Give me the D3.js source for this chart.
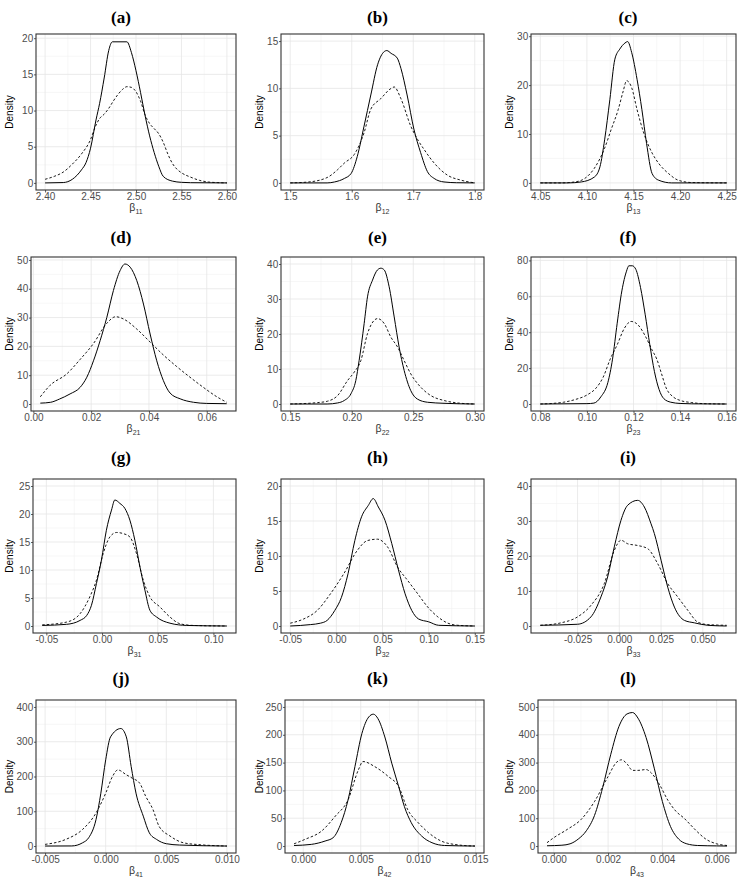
<!DOCTYPE html>
<html>
<head>
<meta charset="utf-8">
<script src="https://cdn.jsdelivr.net/npm/d3@7"></script>
<style>
  body { margin: 0; background: #fff; }
  svg text { font-family: "Liberation Sans", Arial, sans-serif; }
  svg text.caption { font-family: "Liberation Serif", "DejaVu Serif", serif; font-weight: bold; }
</style>
</head>
<body>
<svg id="chart" width="744" height="883"></svg>
<script>
// panel captions and x-axis subscripts
const captions = ["(a)", "(b)", "(c)", "(d)", "(e)", "(f)", "(g)", "(h)", "(i)", "(j)", "(k)", "(l)"];
const subscripts = ["11", "12", "13", "21", "22", "23", "31", "32", "33", "41", "42", "43"];

// tick values and label decimals
const xTicks = [
  [2.40, 2.45, 2.50, 2.55, 2.60], [1.5, 1.6, 1.7, 1.8], [4.05, 4.10, 4.15, 4.20, 4.25],
  [0.00, 0.02, 0.04, 0.06], [0.15, 0.20, 0.25, 0.30], [0.08, 0.10, 0.12, 0.14, 0.16],
  [-0.05, 0.00, 0.05, 0.10], [-0.05, 0.00, 0.05, 0.10, 0.15], [-0.025, 0.000, 0.025, 0.050],
  [-0.005, 0.000, 0.005, 0.010], [0.000, 0.005, 0.010, 0.015], [0.000, 0.002, 0.004, 0.006]
];
const xDigits = [2, 1, 2, 2, 2, 2, 2, 2, 3, 3, 3, 3];
const yTicks = [
  [0, 5, 10, 15, 20], [0, 5, 10, 15], [0, 10, 20, 30],
  [0, 10, 20, 30, 40, 50], [0, 10, 20, 30, 40], [0, 20, 40, 60, 80],
  [0, 5, 10, 15, 20, 25], [0, 5, 10, 15, 20], [0, 10, 20, 30, 40],
  [0, 100, 200, 300, 400], [0, 50, 100, 150, 200, 250], [0, 100, 200, 300, 400, 500]
];

// data extent on x and y limit of each panel
const xRange = [
  [2.40, 2.60], [1.5, 1.8], [4.05, 4.25],
  [0.0024, 0.0669], [0.15, 0.30], [0.08, 0.16],
  [-0.0537, 0.112], [-0.05, 0.15], [-0.0473, 0.0643],
  [-0.005, 0.010], [-0.0008, 0.01494], [-0.00025, 0.00638]
];
const yLimit = [19.6, 15, 29, 48.6, 40, 78, 25, 20, 40, 400, 250, 500];

// density curves: solid and dashed, [x, density]
const solidA = [[2.40,0],[2.42,0.05],[2.43,0.5],[2.44,1.8],[2.445,2.8],[2.45,4.8],[2.456,8.7],[2.46,11],[2.465,14.5],[2.47,18.3],[2.474,19.5],[2.490,19.5],[2.495,18],[2.50,15.5],[2.505,12.5],[2.51,9.3],[2.515,6.5],[2.52,4.2],[2.525,2.3],[2.53,0.9],[2.54,0.25],[2.55,0.08],[2.56,0.03],[2.60,0]];
const dashedA = [[2.40,0.5],[2.41,0.9],[2.42,1.5],[2.43,2.6],[2.44,4.0],[2.45,6.0],[2.455,7.7],[2.46,8.9],[2.465,9.5],[2.47,10.3],[2.475,11.3],[2.48,12.2],[2.485,12.9],[2.49,13.3],[2.495,13.2],[2.50,12.6],[2.505,11.3],[2.51,9.4],[2.515,8.2],[2.52,7.5],[2.525,6.8],[2.53,5.6],[2.535,4.0],[2.54,2.7],[2.545,1.9],[2.55,1.4],[2.56,0.8],[2.57,0.35],[2.58,0.12],[2.59,0.04],[2.60,0]];

const solidB = [[1.5,0],[1.56,0],[1.572,0.1],[1.588,0.47],[1.599,1.0],[1.609,2.8],[1.62,6],[1.631,9.3],[1.642,12.5],[1.653,13.9],[1.657,14.0],[1.664,13.7],[1.674,13.2],[1.68,12.1],[1.69,9.3],[1.701,5.7],[1.712,3.2],[1.723,1.2],[1.734,0.47],[1.75,0.1],[1.77,0.02],[1.8,0]];
const dashedB = [[1.5,0],[1.53,0.1],[1.561,0.6],[1.577,1.4],[1.588,2.1],[1.604,3.0],[1.62,5.3],[1.631,7.8],[1.647,8.9],[1.664,10.0],[1.669,10.15],[1.68,8.9],[1.696,6.0],[1.707,4.6],[1.718,3.5],[1.734,2.1],[1.756,0.8],[1.777,0.3],[1.8,0]];

const solidC = [[4.05,0],[4.08,0],[4.094,0.2],[4.108,1.2],[4.114,3.3],[4.119,8.8],[4.1246,17],[4.13,25.3],[4.1354,27.4],[4.1408,28.6],[4.1437,28.9],[4.148,26.7],[4.1538,21.2],[4.159,15],[4.164,8.1],[4.17,1.9],[4.177,0.55],[4.191,0],[4.25,0]];
const dashedC = [[4.05,0],[4.072,0],[4.087,0.2],[4.0976,0.9],[4.108,3.0],[4.119,7.1],[4.126,10.9],[4.1336,15],[4.139,18.8],[4.1426,20.9],[4.148,19.5],[4.1538,15],[4.161,10.2],[4.17,6.1],[4.177,4.0],[4.1877,1.9],[4.198,0.55],[4.213,0.07],[4.25,0]];

const solidD = [[0.0024,0.3],[0.006,0.6],[0.009,1.7],[0.0127,3.5],[0.0162,5.8],[0.0185,9.3],[0.0208,15],[0.0231,22],[0.0254,30],[0.0277,39.4],[0.030,46.3],[0.0317,48.6],[0.0335,47.5],[0.0358,42.8],[0.0381,34.7],[0.0404,24.3],[0.0427,15],[0.045,8.1],[0.0473,3.8],[0.0508,1.8],[0.0554,0.6],[0.06,0.2],[0.0669,0.1]];
const dashedD = [[0.0024,2.5],[0.0058,6.5],[0.0115,10.4],[0.0162,15.5],[0.0208,21],[0.0254,28],[0.0285,30.3],[0.0312,29.5],[0.0358,26],[0.0404,21.5],[0.045,17],[0.0496,13],[0.0542,9.3],[0.0588,5.8],[0.0635,2.5],[0.0669,0.6]];

const solidE = [[0.15,0],[0.18,0],[0.1885,0.3],[0.1939,1],[0.1993,2.9],[0.2033,6.7],[0.206,12.4],[0.2101,23],[0.2128,30.6],[0.2169,35.4],[0.2209,38.3],[0.2237,38.8],[0.2264,38.3],[0.2304,33.5],[0.2345,24.9],[0.2385,16.3],[0.2426,9.6],[0.248,3.8],[0.2534,1.4],[0.2616,0.5],[0.275,0.2],[0.30,0]];
const dashedE = [[0.15,0],[0.1722,0.4],[0.1803,0.8],[0.1885,2.4],[0.1966,6.7],[0.202,9.1],[0.2074,12.4],[0.2128,20.1],[0.2182,23.9],[0.2209,24.4],[0.2264,23],[0.2318,19.1],[0.2372,16.3],[0.2426,12.4],[0.248,8.6],[0.2561,4.8],[0.2643,2.4],[0.275,1],[0.2859,0.3],[0.30,0]];

const solidF = [[0.08,0],[0.10,0.2],[0.103,0.5],[0.106,4],[0.109,12],[0.111,25],[0.113,45],[0.115,63],[0.117,74],[0.118,77],[0.1195,77],[0.121,75],[0.123,65],[0.125,50],[0.127,33],[0.129,18],[0.131,8],[0.133,3],[0.136,1],[0.14,0.3],[0.145,0.1],[0.16,0]];
const dashedF = [[0.08,0],[0.085,0.3],[0.09,1],[0.095,2.5],[0.10,5],[0.104,9],[0.107,15],[0.11,25],[0.113,33],[0.116,42],[0.119,46],[0.122,44],[0.125,38],[0.128,30],[0.13,25],[0.132,17],[0.134,9],[0.137,4],[0.14,2],[0.145,0.8],[0.15,0.2],[0.16,0]];

const solidG = [[-0.0537,0.1],[-0.0318,0.3],[-0.0197,1.0],[-0.0137,1.9],[-0.0095,3.7],[-0.005,7.6],[-0.0005,11.8],[0.0039,17.1],[0.0085,20.7],[0.0115,22.5],[0.016,21.9],[0.0205,21],[0.025,18.9],[0.0295,15.3],[0.034,10.6],[0.0385,6.4],[0.043,2.8],[0.049,1.6],[0.061,0.5],[0.076,0.1],[0.112,0]];
const dashedG = [[-0.0537,0.2],[-0.0318,0.7],[-0.0197,2.2],[-0.011,5.2],[-0.005,8.2],[0.001,12.9],[0.007,15.9],[0.013,16.7],[0.019,16.5],[0.025,15.9],[0.031,12.9],[0.037,8.2],[0.043,5.2],[0.052,3.4],[0.061,1.6],[0.070,0.4],[0.082,0.1],[0.112,0]];

const solidH = [[-0.05,0],[-0.0282,0.2],[-0.0173,0.4],[-0.01,0.8],[-0.0018,2.2],[0.0055,4.1],[0.0127,7.5],[0.02,12.2],[0.0273,15.6],[0.0345,17.2],[0.04,18.2],[0.0455,17],[0.0527,15.1],[0.06,11.8],[0.0673,8],[0.0745,4.6],[0.0818,2.2],[0.0891,1.0],[0.1,0.6],[0.1109,0.1],[0.15,0]];
const dashedH = [[-0.05,0.4],[-0.0355,1],[-0.0209,2.2],[-0.0064,4.6],[0.0082,7.5],[0.0227,10.8],[0.0336,12.2],[0.0445,12.4],[0.0555,11.3],[0.0664,8.4],[0.0773,6.5],[0.0882,4.6],[0.0991,2.7],[0.11,1.3],[0.1209,0.4],[0.1318,0.1],[0.15,0]];

const solidI = [[-0.0473,0.2],[-0.025,0.5],[-0.017,2.6],[-0.011,8.3],[-0.007,14],[-0.003,22.6],[0.001,30.2],[0.005,34.5],[0.011,35.9],[0.015,34],[0.019,29.2],[0.021,26.4],[0.025,18.8],[0.029,11.1],[0.033,5.4],[0.039,1.6],[0.045,0.9],[0.053,0.2],[0.0643,0]];
const dashedI = [[-0.0473,0.2],[-0.035,0.9],[-0.025,2.6],[-0.017,5.9],[-0.009,12.1],[-0.003,21.6],[0.001,24.5],[0.005,23.5],[0.011,23],[0.017,22.1],[0.023,17.8],[0.029,12.1],[0.035,8.3],[0.041,4.5],[0.047,1.1],[0.053,0.4],[0.0643,0.2]];

const solidJ = [[-0.005,0],[-0.0028,0.3],[-0.0019,9.5],[-0.0014,24],[-0.0008,76],[-0.0004,152],[0,248],[0.0004,314],[0.00125,338],[0.0017,314],[0.0021,229],[0.0025,152],[0.0031,86],[0.0036,38],[0.0042,19],[0.005,6.7],[0.0061,2.9],[0.010,0]];
const dashedJ = [[-0.005,4.8],[-0.0033,19],[-0.0019,48],[-0.0008,95],[0,152],[0.00056,200],[0.001,219],[0.0017,205],[0.0022,195],[0.0028,181],[0.0033,143],[0.0039,105],[0.0044,57],[0.0053,29],[0.0064,9.5],[0.0078,3.8],[0.010,0]];

const solidK = [[-0.0008,1],[0.0007,3],[0.0019,9],[0.0026,15],[0.0033,42],[0.0039,83],[0.0045,143],[0.0051,202],[0.0057,232],[0.0061,237],[0.0065,229],[0.0071,196],[0.0077,149],[0.0083,107],[0.0088,71],[0.0094,42],[0.0103,18],[0.0112,6],[0.0123,1],[0.01494,0]];
const dashedK = [[-0.0008,4],[0.00015,12],[0.0016,27],[0.0028,54],[0.0039,83],[0.0048,137],[0.0052,152],[0.0062,143],[0.0074,125],[0.0083,107],[0.0091,65],[0.01,42],[0.0109,24],[0.012,9],[0.0135,2],[0.01494,0]];

const solidL = [[-0.00025,1],[0.0003,3],[0.0006,8],[0.0009,25],[0.0012,55],[0.0015,110],[0.0018,210],[0.0021,330],[0.0024,430],[0.0027,475],[0.0029,480],[0.0031,460],[0.0034,390],[0.0037,280],[0.0040,160],[0.0043,70],[0.0046,25],[0.0049,8],[0.0053,2],[0.006,0.5],[0.00638,0]];
const dashedL = [[-0.00025,12],[0.0,30],[0.0005,60],[0.001,95],[0.0015,160],[0.002,250],[0.0023,300],[0.0025,310],[0.0027,295],[0.0029,272],[0.0031,272],[0.0034,275],[0.0036,262],[0.0039,220],[0.0042,165],[0.0045,125],[0.0048,100],[0.005,80],[0.0053,50],[0.0056,25],[0.006,8],[0.00638,2]];

const solids = [solidA, solidB, solidC, solidD, solidE, solidF, solidG, solidH, solidI, solidJ, solidK, solidL];
const dashes = [dashedA, dashedB, dashedC, dashedD, dashedE, dashedF, dashedG, dashedH, dashedI, dashedJ, dashedK, dashedL];

const svg = d3.select("#chart");

// layout of the 4 x 3 grid
const boxLeft = [36, 281, 531, 31, 281, 531, 33, 281, 531, 36, 285, 538];
const boxRight = [236, 484, 736];
const densityX = [9.5, 259, 509];
const titleX = [121, 377.5, 628];
const rowTop = [34, 257, 479, 700];
const rowBottom = [190, 411, 633, 853];
const titleY = [17, 237, 457.5, 678];

const line = (x, y) => d3.line()
  .x(d => x(d[0]))
  .y(d => y(d[1]))
  .curve(d3.curveMonotoneX);

// minor breaks halfway between major ones
const minor = (ticks, dom) => {
  const step = ticks[1] - ticks[0];
  const out = [];
  for (let v = ticks[0] - step / 2; v <= dom[1]; v += step) {
    if (v >= dom[0]) out.push(v);
  }
  return out;
};

captions.forEach((cap, i) => {
  const col = i % 3, row = Math.floor(i / 3);
  const g = svg.append("g");

  const left = boxLeft[i];
  const right = boxRight[col];
  const top = rowTop[row], bottom = rowBottom[row];

  const [lo, hi] = xRange[i];
  const pad = (hi - lo) * 0.05;
  const x = d3.scaleLinear().domain([lo - pad, hi + pad]).range([left, right]);
  const y = d3.scaleLinear().domain([-0.05 * yLimit[i], 1.05 * yLimit[i]]).range([bottom, top]);

  const grid = g.append("g");
  grid.selectAll(".xmin").data(minor(xTicks[i], x.domain())).join("line")
    .attr("x1", d => x(d)).attr("x2", d => x(d)).attr("y1", top).attr("y2", bottom)
    .attr("stroke", "#f2f2f2").attr("stroke-width", 0.6);
  grid.selectAll(".ymin").data(minor(yTicks[i], y.domain())).join("line")
    .attr("x1", left).attr("x2", right).attr("y1", d => y(d)).attr("y2", d => y(d))
    .attr("stroke", "#f2f2f2").attr("stroke-width", 0.6);
  grid.selectAll(".xmaj").data(xTicks[i]).join("line")
    .attr("x1", d => x(d)).attr("x2", d => x(d)).attr("y1", top).attr("y2", bottom)
    .attr("stroke", "#e6e6e6").attr("stroke-width", 0.8);
  grid.selectAll(".ymaj").data(yTicks[i]).join("line")
    .attr("x1", left).attr("x2", right).attr("y1", d => y(d)).attr("y2", d => y(d))
    .attr("stroke", "#e6e6e6").attr("stroke-width", 0.8);

  const clipId = "clip" + i;
  g.append("clipPath").attr("id", clipId).append("rect")
    .attr("x", left).attr("y", top).attr("width", right - left).attr("height", bottom - top);

  const curves = g.append("g").attr("clip-path", `url(#${clipId})`);
  curves.append("path").datum(dashes[i])
    .attr("d", line(x, y)).attr("fill", "none")
    .attr("stroke", "#000").attr("stroke-width", 0.9).attr("stroke-dasharray", "2.5,2");
  curves.append("path").datum(solids[i])
    .attr("d", line(x, y)).attr("fill", "none")
    .attr("stroke", "#000").attr("stroke-width", 1);

  g.append("rect")
    .attr("x", left).attr("y", top).attr("width", right - left).attr("height", bottom - top)
    .attr("fill", "none").attr("stroke", "#333").attr("stroke-width", 1.1);

  const fmt = d3.format(`.${xDigits[i]}f`);
  const xAxis = g.append("g").attr("transform", `translate(0,${bottom})`)
    .call(d3.axisBottom(x).tickValues(xTicks[i]).tickFormat(d => fmt(d).replace("−", "-")).tickSize(2.5).tickPadding(0));
  const yAxis = g.append("g").attr("transform", `translate(${left},0)`)
    .call(d3.axisLeft(y).tickValues(yTicks[i]).tickFormat(d3.format("d")).tickSize(2).tickPadding(0.8));
  [xAxis, yAxis].forEach(a => {
    a.select(".domain").remove();
    a.selectAll("line").attr("stroke", "#333").attr("stroke-width", 0.8);
    a.selectAll("text").attr("font-size", 10).attr("fill", "#4d4d4d");
  });

  g.append("text")
    .attr("transform", `translate(${densityX[col]},${(top + bottom) / 2}) rotate(-90)`)
    .attr("text-anchor", "middle").attr("dominant-baseline", "central")
    .attr("font-size", 10).attr("fill", "#000")
    .text("Density");

  const xt = g.append("text")
    .attr("x", (left + right) / 2).attr("y", bottom + 21)
    .attr("text-anchor", "middle").attr("font-size", 10.5).attr("fill", "#333");
  xt.append("tspan").text("β");
  xt.append("tspan").attr("font-size", 7).attr("dy", 2.5).text(subscripts[i]);

  svg.append("text").attr("class", "caption")
    .attr("x", titleX[col]).attr("y", titleY[row])
    .attr("text-anchor", "middle").attr("dominant-baseline", "central")
    .attr("font-size", 17).attr("fill", "#000")
    .text(cap);
});
</script>
</body>
</html>
